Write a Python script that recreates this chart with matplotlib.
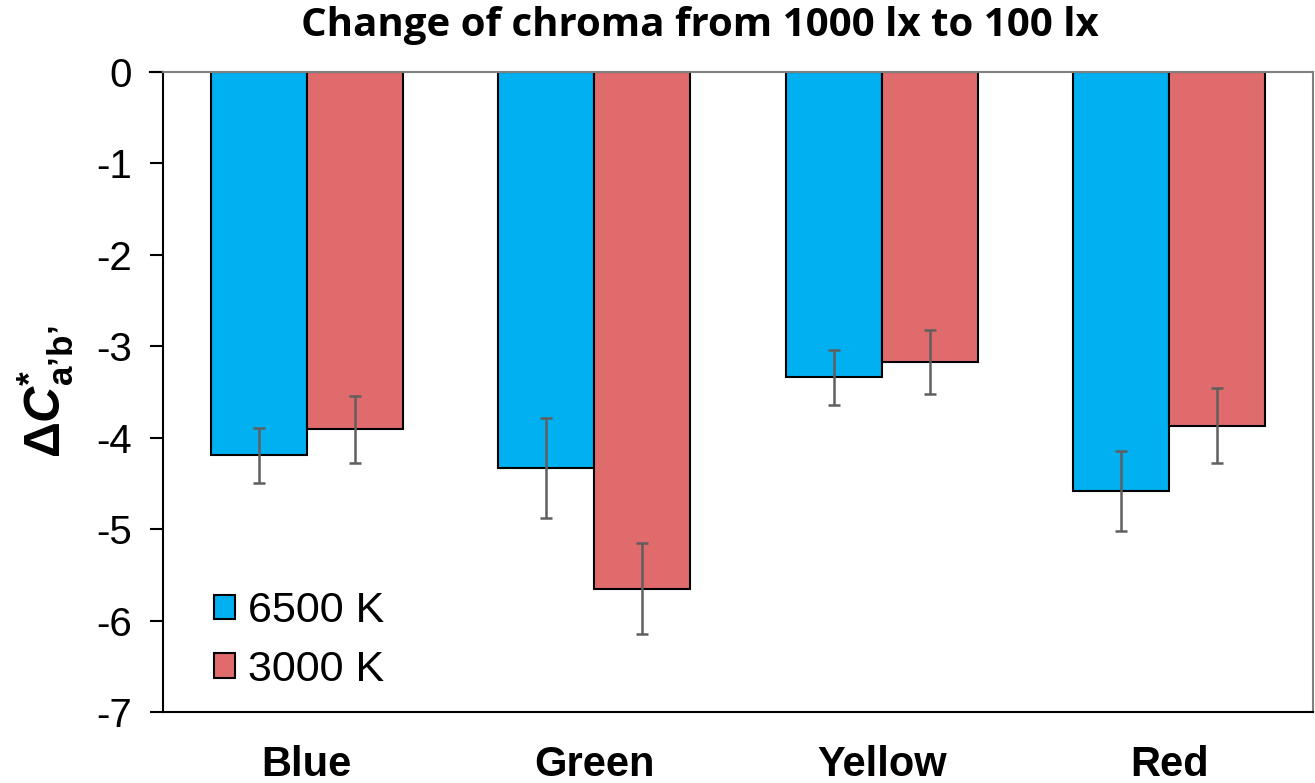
import matplotlib
matplotlib.use("Agg")
import matplotlib.pyplot as plt
import numpy as np

categories = ["Blue", "Green", "Yellow", "Red"]
series_names = ["6500 K", "3000 K"]
vals_6500 = [-4.19, -4.33, -3.34, -4.58]
err_6500 = [0.30, 0.55, 0.30, 0.44]
vals_3000 = [-3.91, -5.65, -3.17, -3.87]
err_3000 = [0.37, 0.50, 0.35, 0.41]
yticks = [0, -1, -2, -3, -4, -5, -6, -7]

plt.rcParams['font.family'] = ['Liberation Sans', 'DejaVu Sans']
plt.rcParams['mathtext.fontset'] = 'custom'
plt.rcParams['mathtext.rm'] = 'Liberation Sans'
plt.rcParams['mathtext.bf'] = 'Liberation Sans:bold'
plt.rcParams['mathtext.it'] = 'Liberation Sans:italic'
plt.rcParams['mathtext.bfit'] = 'Liberation Sans:bold:italic'

fig = plt.figure(figsize=(13.15, 7.83), dpi=100)
ax = fig.add_axes([0.124, 0.0907, 0.8745, 0.8173])

x = np.arange(len(categories))
w = 0.334
blue = '#00B0F0'
red = '#E06B6C'
ecol = '#5F5F5F'
ax.bar(x - w/2, vals_6500, w, color=blue, edgecolor='black', linewidth=1.5,
       label=series_names[0], zorder=2)
ax.bar(x + w/2, vals_3000, w, color=red, edgecolor='black', linewidth=1.5,
       label=series_names[1], zorder=2)
ax.errorbar(x - w/2, vals_6500, yerr=err_6500, fmt='none', ecolor=ecol,
            elinewidth=1.8, capsize=4.5, capthick=1.8, zorder=3)
ax.errorbar(x + w/2, vals_3000, yerr=err_3000, fmt='none', ecolor=ecol,
            elinewidth=1.8, capsize=4.5, capthick=1.8, zorder=3)

ax.set_xlim(-0.5, 3.5)
ax.set_ylim(-7, 0)
ax.set_yticks(yticks)
ax.set_yticklabels([str(t) for t in yticks], fontsize=29)
ax.tick_params(axis='y', direction='out', length=9.5, width=1.5, pad=13)
ax.set_xticks(x)
ax.set_xticklabels(categories, fontsize=30, fontweight='bold')
ax.tick_params(axis='x', length=0, pad=24)

for s in ['left', 'bottom']:
    ax.spines[s].set_color('black')
    ax.spines[s].set_linewidth(1.5)
for s in ['top', 'right']:
    ax.spines[s].set_color('#808080')
    ax.spines[s].set_linewidth(1.5)
ax.plot([-0.5 - 13/287.5, -0.5], [0, 0], color='black', lw=1.5, clip_on=False)

ax.set_ylabel(r"$\mathbf{\Delta}\mathbfit{C}^{\mathbf{*}}_{\mathbf{a’b’}}$",
              fontsize=36, labelpad=14)

fig.text(0.532, 0.968, "Change of chroma from 1000 lx to 100 lx",
         ha='center', va='center', fontsize=29, fontweight='bold',
         family=['Open Sans', 'DejaVu Sans'])

leg = ax.legend(loc='lower left', bbox_to_anchor=(0.018, -0.012), frameon=False,
                fontsize=31, handlelength=0.5, handleheight=0.5,
                handletextpad=0.3, labelspacing=0.42, borderaxespad=0.3)

fig.savefig("out.png", dpi=100)
